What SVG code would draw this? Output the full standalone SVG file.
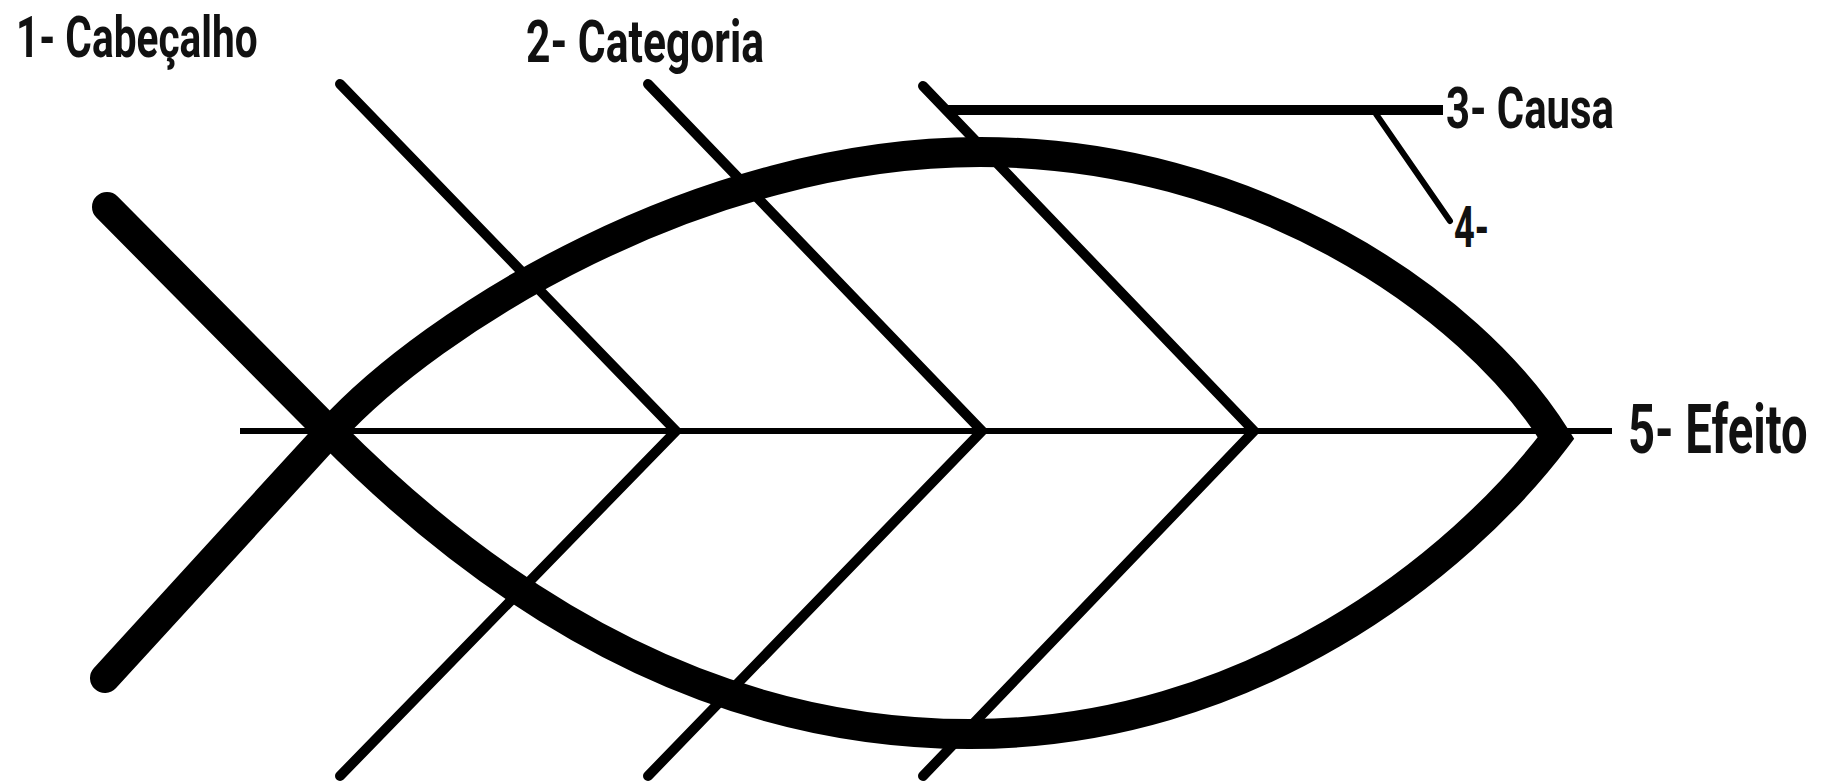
<svg xmlns="http://www.w3.org/2000/svg" width="1829" height="782" viewBox="0 0 1829 782">
  <style>
    .bg { fill: #ffffff; }
    .body { fill: none; stroke: #000; stroke-width: 30; stroke-linecap: round; stroke-linejoin: miter; stroke-miterlimit: 4; }
    .spine { fill: none; stroke: #000; stroke-width: 6; stroke-linecap: butt; }
    .bone { fill: none; stroke: #000; stroke-width: 10; stroke-linecap: round; stroke-linejoin: miter; }
    .cause { fill: none; stroke: #000; stroke-width: 10; stroke-linecap: butt; }
    .sub { fill: none; stroke: #000; stroke-width: 6; stroke-linecap: round; }
    .lbl { font-family: Roboto, "Liberation Sans", sans-serif; font-weight: 700; fill: #111; }
  </style>
  <rect class="bg" x="0" y="0" width="1829" height="782"/>

  <g id="fish-body">
    <path class="body" d="M107,207 L330,432 C527,631 740,734 970,734 C1250,734 1460,565 1556,438 C1470,300 1250,152 980,152 C700,152 431,321 330,432 L105,678"/>
  </g>

  <g id="connectors">
    <line id="spine" class="spine" x1="240" y1="431" x2="1612" y2="431"/>
    <polyline id="bone-1" class="bone" points="340,84 676,431 340,776"/>
    <polyline id="bone-2" class="bone" points="648,84 982,431 648,776"/>
    <polyline id="bone-3" class="bone" points="923,86 1254,431 923,776"/>
    <line id="cause-line" class="cause" x1="945" y1="110" x2="1443" y2="110"/>
    <line id="sub-cause-line" class="sub" x1="1376" y1="114" x2="1450" y2="221"/>
  </g>

  <g id="label-cabecalho" transform="translate(16,57) scale(0.73,1)">
    <text class="lbl" x="0" y="0" font-size="58" textLength="331" lengthAdjust="spacingAndGlyphs">1- Cabeçalho</text>
  </g>
  <g id="label-categoria" transform="translate(526,62) scale(0.73,1)">
    <text class="lbl" x="0" y="0" font-size="60" textLength="326" lengthAdjust="spacingAndGlyphs">2- Categoria</text>
  </g>
  <g id="label-causa" transform="translate(1446,128) scale(0.73,1)">
    <text class="lbl" x="0" y="0" font-size="58" textLength="230" lengthAdjust="spacingAndGlyphs">3- Causa</text>
  </g>
  <g id="label-4" transform="translate(1454,247) scale(0.73,1)">
    <text class="lbl" x="0" y="0" font-size="58" textLength="48" lengthAdjust="spacingAndGlyphs">4-</text>
  </g>
  <g id="label-efeito" transform="translate(1628,453) scale(0.73,1)">
    <text class="lbl" x="0" y="0" font-size="68" textLength="246" lengthAdjust="spacingAndGlyphs">5- Efeito</text>
  </g>
</svg>
